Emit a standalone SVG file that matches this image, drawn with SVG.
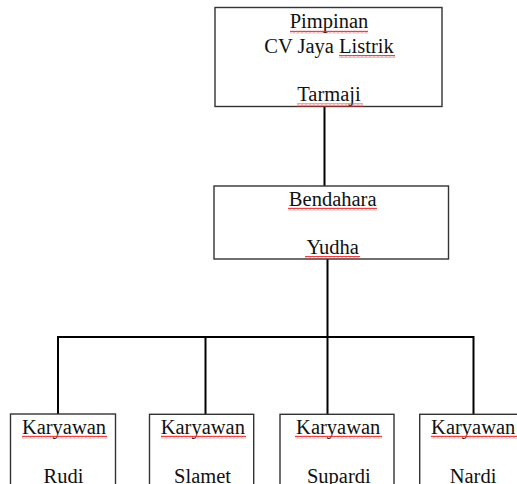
<svg xmlns="http://www.w3.org/2000/svg" width="517" height="484" viewBox="0 0 517 484">
<defs>
<pattern id="sq" width="4" height="3" patternUnits="userSpaceOnUse">
<path d="M0,2.4 L1,0.6 L2,2.4 L3,0.6 L4,2.4" fill="none" stroke="#e03030" stroke-width="0.9"/>
</pattern>
</defs>
<style>
.box{fill:#fff;stroke:#333;stroke-width:1.4}
.t{font-family:"Liberation Serif","Times New Roman",serif;font-size:20.5px;fill:#111;text-anchor:middle}
.sq{fill:url(#sq)}
.ln{stroke:#000;stroke-width:2;fill:none}
</style>
<rect width="517" height="484" fill="#fff"/>
<g id="connectors">
<line class="ln" x1="324.5" y1="107" x2="324.5" y2="186"/>
<line class="ln" x1="327.5" y1="259" x2="327.5" y2="337"/>
<polyline class="ln" points="58,414 58,337 473.5,337 473.5,414"/>
<line class="ln" x1="205.5" y1="337" x2="205.5" y2="414"/>
<line class="ln" x1="327.5" y1="337" x2="327.5" y2="414"/>
</g>
<g id="pimpinan">
<rect class="box" x="215" y="7.5" width="227" height="99"/>
<text class="t" x="329" y="28.3">Pimpinan</text>
<text class="t" x="329" y="52.8">CV Jaya Listrik</text>
<text class="t" x="329" y="101.4">Tarmaji</text>
<rect class="sq" x="290" y="30.5" width="78" height="3"/>
<rect class="sq" x="339" y="55" width="56" height="3"/>
<rect class="sq" x="297" y="103.5" width="66" height="3"/>
</g>
<g id="bendahara">
<rect class="box" x="214" y="186" width="234.5" height="73"/>
<text class="t" x="332.7" y="206">Bendahara</text>
<text class="t" x="332.7" y="254">Yudha</text>
<rect class="sq" x="288" y="207.5" width="89" height="3"/>
<rect class="sq" x="305" y="256" width="55" height="3"/>
</g>
<g id="rudi">
<rect class="box" x="10.5" y="414" width="105" height="80"/>
<text class="t" x="64" y="434.3">Karyawan</text>
<text class="t" x="63.5" y="482.7">Rudi</text>
<rect class="sq" x="22" y="435.5" width="85" height="3"/>
</g>
<g id="slamet">
<rect class="box" x="149.5" y="414.3" width="104.2" height="80"/>
<text class="t" x="202.8" y="434.3">Karyawan</text>
<text class="t" x="202.5" y="482.7">Slamet</text>
<rect class="sq" x="161" y="435.5" width="85" height="3"/>
</g>
<g id="supardi">
<rect class="box" x="280" y="414.3" width="114" height="80"/>
<text class="t" x="338.2" y="434.3">Karyawan</text>
<text class="t" x="338.8" y="482.7">Supardi</text>
<rect class="sq" x="295" y="435.5" width="87" height="3"/>
</g>
<g id="nardi">
<rect class="box" x="419.7" y="414.3" width="110" height="80"/>
<text class="t" x="473.2" y="434.3">Karyawan</text>
<text class="t" x="473" y="482.7">Nardi</text>
<rect class="sq" x="431" y="435.5" width="86" height="3"/>
</g>
</svg>
